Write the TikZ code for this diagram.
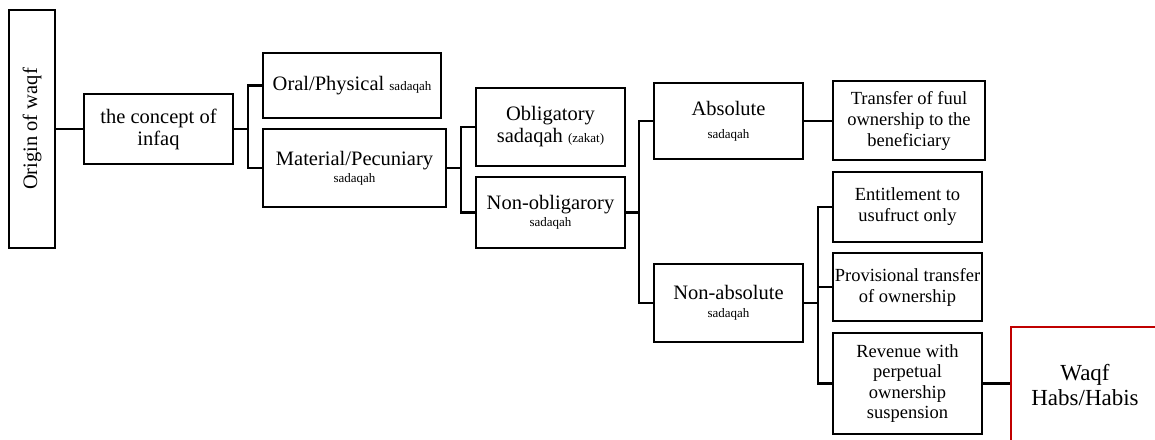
\documentclass[tikz,border=0pt]{standalone}
\usepackage{fontspec}
\setmainfont{Liberation Serif}
\usetikzlibrary{calc}
\definecolor{waqfred}{HTML}{C00000}
\newcommand\smallnote[1]{{\fontsize{13}{15}\selectfont #1}}
\begin{document}
\begin{tikzpicture}[x=1pt,y=-1pt,
  box/.style={draw, line width=2.4pt, inner sep=0pt, align=center,
    font=\fontsize{20.5}{22}\selectfont},
  smallbox/.style={box, font=\fontsize{18.5}{21}\selectfont},
  link/.style={line width=2.4pt},
]
\useasboundingbox (0,0) rectangle (1155,439);

% first levels
\node[box, rotate=90, minimum width=238pt, minimum height=46pt] (origin) at (32,129) {Origin of waqf};
\node[box, minimum width=149pt, minimum height=70pt] (infaq) at (158.5,129) {the concept of\\infaq};
\node[box, minimum width=178pt, minimum height=65pt] (oral) at (352,85.5) {Oral/Physical \smallnote{sadaqah}};
\node[box, minimum width=183pt, minimum height=78pt] (material) at (354.5,168) {Material/Pecuniary\\[-5pt]\smallnote{sadaqah}};
\node[box, minimum width=149pt, minimum height=78pt] (oblig) at (550.5,127) {Obligatory\\sadaqah \smallnote{(zakat)}};
\node[box, minimum width=149pt, minimum height=71pt] (nonoblig) at (550.5,212.5) {Non-obligarory\\[-5pt]\smallnote{sadaqah}};
\node[box, minimum width=149pt, minimum height=76pt] (absolute) at (728.5,121) {Absolute\\[1pt]\smallnote{sadaqah}};
\node[box, minimum width=149pt, minimum height=78pt] (nonabs) at (728.5,303) {Non-absolute\\[-4pt]\smallnote{sadaqah}};

% outcomes
\node[smallbox, minimum width=152pt, minimum height=79pt] (transfer) at (909,120.5) {Transfer of fuul\\ownership to the\\beneficiary};
\node[smallbox, minimum width=149pt, minimum height=70pt] (entitle) at (907.5,207) {Entitlement to\\usufruct only};
\node[smallbox, minimum width=149pt, minimum height=68pt] (provis) at (907.5,287) {Provisional transfer\\of ownership};
\node[box, font=\fontsize{18.5}{20.5}\selectfont, minimum width=149pt, minimum height=101pt] (revenue) at (907.5,383.5) {Revenue with\\perpetual\\ownership\\suspension};

\begin{scope}
  \clip (0,0) rectangle (1155,439);
  \node[box, draw=waqfred, minimum width=148pt, minimum height=116pt,
    font=\fontsize{23}{25}\selectfont] (waqf) at (1085,385) {Waqf\\Habs/Habis};
\end{scope}

% connector buses
\coordinate (bus1) at (248,0);
\coordinate (bus2) at (461,0);
\coordinate (bus3) at (639,0);
\coordinate (bus4) at (818,0);

\draw[link] (infaq) -- (origin);
\draw[link] (infaq.east) -- (infaq.east -| bus1);
\draw[link] (oral.west) -| (bus1 |- material.west) -- (material.west);

\draw[link] (material.east) -- (material.east -| bus2);
\draw[link] (oblig.west) -| (bus2 |- nonoblig.west) -- (nonoblig.west);

\draw[link] (nonoblig.east) -- (nonoblig.east -| bus3);
\draw[link] (absolute.west) -| (bus3 |- nonabs.west) -- (nonabs.west);

\draw[link] (absolute.east) -- (absolute.east -| transfer.west);

\draw[link] (nonabs.east) -- (nonabs.east -| bus4);
\draw[link] (entitle.west) -| (bus4 |- revenue.west) -- (revenue.west);
\draw[link] (provis.west) -- (provis.west -| bus4);

\draw[link] (revenue.east) -- (revenue.east -| waqf.west);
\end{tikzpicture}
\end{document}
